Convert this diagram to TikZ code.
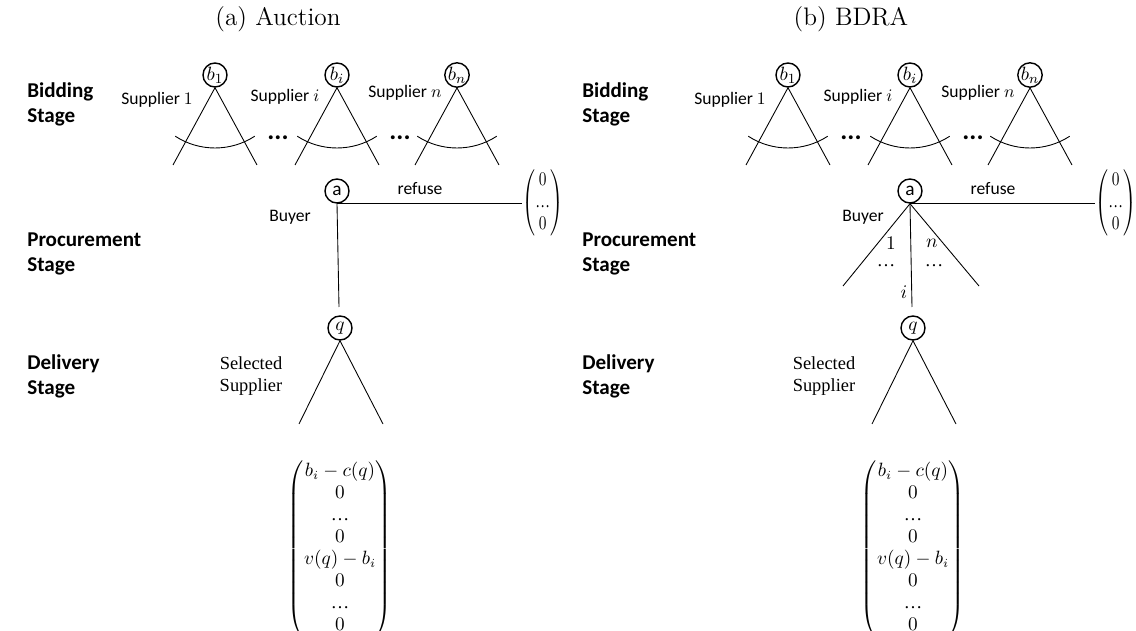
\documentclass[tikz,border=0pt]{standalone}
\usepackage{amsmath}
\usepackage{amssymb}
\usepackage{graphicx}
\usepackage{fontspec}
\newfontfamily\calibri{Carlito}
\newfontfamily\cambria{Liberation Serif}
\usepackage{tikz}

\newcommand{\elp}{\text{\cambria …}}

\begin{document}
\begin{tikzpicture}[x=0.02cm, y=-0.02cm, line width=0.5pt,
	dnode/.style={draw, circle, line width=0.8pt, inner sep=0pt, minimum size=0.48cm, font=\fontsize{11}{12}\selectfont},
	stagelbl/.style={anchor=west, align=left, font=\calibri\bfseries\fontsize{12}{14.2}\selectfont},
	txt/.style={font=\calibri\fontsize{10}{12}\selectfont},
	vec/.style={inner sep=0pt, font=\fontsize{10.5}{12.5}\selectfont}]
	
	\useasboundingbox (0,0) rectangle (1136,631);
	
	\foreach \p/\dx/\sx/\ttl in {A/0/21/(a) Auction, B/573/576/(b) BDRA}{
		\node[stagelbl] (bid\p) at (\sx,104) {Bidding\\Stage};
		\node[stagelbl] (pro\p) at (\sx,254) {Procurement\\Stage};
		\node[stagelbl] (del\p) at (\sx,376) {Delivery\\Stage};
		\begin{scope}[shift={(\dx,0)}]
			\node[font=\fontsize{14.4}{17}\selectfont] (ttl\p) at (278,19) {\ttl};
			% bidding
			\foreach \k/\x/\s/\lx/\ly in {1/215/1/157/100, i/337/i/285/97, n/457/n/405/93}{
				\node[dnode] (b\k\p) at (\x,75) {$b_{\s}$};
				\coordinate (bl\k\p) at (\x-42,165);
				\coordinate (br\k\p) at (\x+42,165);
				\draw (bl\k\p) -- (b\k\p.south) -- (br\k\p);
				\draw ([shift={(-123:1.46cm)}]b\k\p.center) arc[start angle=-123, end angle=-57, radius=1.46cm];
				\node[txt] (sup\k\p) at (\lx,\ly) {Supplier $\s$};
			}
			\node[font=\calibri\bfseries\fontsize{15}{16}\selectfont] (dotl\p) at (278,138) {...};
			\node[font=\calibri\bfseries\fontsize{15}{16}\selectfont] (dotr\p) at (400,138) {...};
			% procurement
			\node[dnode, font=\calibri\fontsize{11}{12}\selectfont] (a\p) at (337,191) {a};
			\node[vec, anchor=west] (zero\p) at (522,203) {\scalebox{0.8}[1]{$\begin{pmatrix}0\\ \elp\\ 0\end{pmatrix}$}};
			\draw (a\p.south) -- (a\p.south -| zero\p.west);
			\node[txt] (ref\p) at (420,189) {refuse};
			\node[txt] (buy\p) at (290,217) {Buyer};
			\coordinate (ai\p) at (339,307);
			\draw (a\p.south) -- (ai\p);
			% delivery
			\node[dnode] (q\p) at (340,328) {$q$};
			\coordinate (ql\p) at (299,424);
			\coordinate (qr\p) at (383,424);
			\draw (ql\p) -- (q\p.south) -- (qr\p);
			\node[align=center, font=\cambria\fontsize{10.5}{12.5}\selectfont] (sel\p) at (251,376) {Selected\\Supplier};
			\node[vec] (pay\p) at (340,549) {$\begin{pmatrix} b_i-c(q)\\ 0\\ \elp\\ 0\\ v(q)-b_i\\ 0\\ \elp\\ 0\end{pmatrix}$};
		\end{scope}
	}
	
	% extra branches of the buyer in BDRA
	\coordinate (a1B) at (843,286);
	\coordinate (anB) at (979,286);
	\draw (a1B) -- (aB.south) -- (anB);
	\node[vec] (one) at (891,243) {$1$};
	\node[vec] (enn) at (932,243) {$n$};
	\node[vec] (dl) at (886,266) {$\elp$};
	\node[vec] (dr) at (934,266) {$\elp$};
	\node[vec] (eye) at (904,292) {$i$};
	
\end{tikzpicture}
\end{document}
